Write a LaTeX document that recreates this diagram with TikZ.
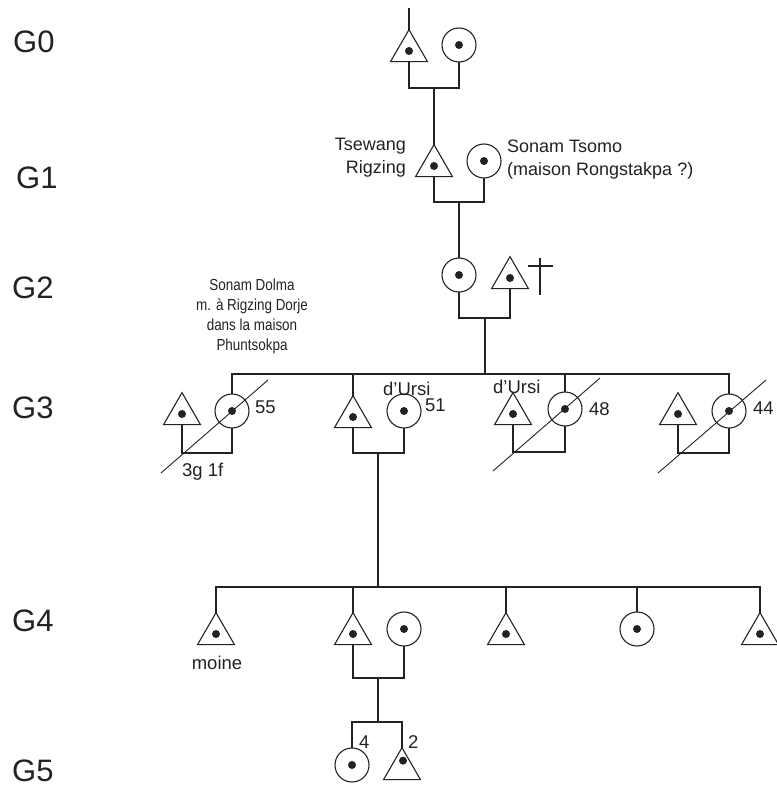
\documentclass[tikz,border=0pt]{standalone}
\usepackage{fontspec}
\setmainfont{Liberation Sans}
\usetikzlibrary{shapes.geometric}
\definecolor{ink}{HTML}{222222}
\tikzset{
  ln/.style={line width=1.1pt, draw=ink},
  thin/.style={line width=0.9pt, draw=ink},
  male/.style={draw=ink, regular polygon, regular polygon sides=3, minimum size=42.7pt, inner sep=0pt, outer sep=0pt, line width=1.1pt},
  female/.style={draw=ink, circle, minimum size=34pt, inner sep=0pt, outer sep=0pt, line width=1.1pt},
  lbl/.style={inner sep=0pt, text=ink, font=\fontsize{18.5}{22}\selectfont},
  lblg/.style={inner sep=0pt, text=ink, font=\fontsize{18}{22}\selectfont},
  lbls/.style={inner sep=0pt, text=ink, font=\fontsize{16}{20}\selectfont, anchor=base},
  gen/.style={inner sep=0pt, anchor=west, text=ink, font=\fontsize{31}{36}\selectfont},
}
\begin{document}
\begin{tikzpicture}[x=1pt,y=-1pt]
\useasboundingbox (0,0) rectangle (776,789);
% generation labels
\node[gen] (g0) at (13,42) {G0};
\node[gen] (g1) at (16,178) {G1};
\node[gen] (g2) at (12,288) {G2};
\node[gen] (g3) at (12,408) {G3};
\node[gen] (g4) at (12,621) {G4};
\node[gen] (g5) at (12,771) {G5};

% G0
\node[male] (t0) at (409,51) {};
\node[female] (c0) at (459,45) {};
\coordinate (top0) at (409,8);
\coordinate (m0) at (434,88);
\draw[ln] (top0) -- (t0.north);
\draw[ln] (t0.south) |- (m0) -| (c0.south);

% G1
\node[male] (t1) at (434,166) {};
\node[female] (c1) at (484,161) {};
\coordinate (m1) at (459,202);
\draw[ln] (m0) -- (t1.north);
\draw[ln] (t1.south) |- (m1) -| (c1.south);
\node[lblg, anchor=base east] (ts1) at (406,150) {Tsewang};
\node[lblg, anchor=base east] (ts2) at (406,173) {Rigzing};
\node[lblg, anchor=base west] (so1) at (507,152) {Sonam Tsomo};
\node[lblg, anchor=base west] (so2) at (507,175) {(maison Rongstakpa ?)};

% G2
\node[female] (c2) at (459,275) {};
\node[male] (t2) at (510,278) {};
\coordinate (m2) at (485,318);
\draw[ln] (m1) -- (c2.north);
\draw[ln] (c2.south) |- (m2) -| (t2.south);
\coordinate (cr1) at (540,258);
\coordinate (cr2) at (540,295);
\coordinate (cr3) at (528,266);
\coordinate (cr4) at (553,266);
\draw[ln] (cr1) -- (cr2);
\draw[ln] (cr3) -- (cr4);
\node[lbls] (sd1) at (252,290) {\scalebox{0.84}[1]{Sonam Dolma}};
\node[lbls] (sd2) at (252,310) {\scalebox{0.84}[1]{m. à Rigzing Dorje}};
\node[lbls] (sd3) at (252,330) {\scalebox{0.84}[1]{dans la maison}};
\node[lbls] (sd4) at (252,350) {\scalebox{0.84}[1]{Phuntsokpa}};

% G3
\coordinate (s3) at (485,374);
\draw[ln] (m2) -- (s3);
\node[male] (tA) at (182,414) {};
\node[female] (cA) at (232,411) {};
\node[male] (tB) at (353,417) {};
\node[female] (cB) at (404,411) {};
\node[male] (tC) at (513,414) {};
\node[female] (cC) at (565,409) {};
\node[male] (tD) at (678,414) {};
\node[female] (cD) at (729,411) {};
\draw[ln] (cA.north) |- (s3) -| (cD.north);
\draw[ln] (s3 -| tB.north) -- (tB.north);
\draw[ln] (s3 -| cC.north) -- (cC.north);
\coordinate (mA) at (207,453);
\coordinate (mB) at (378,453);
\coordinate (mC) at (539,452);
\coordinate (mD) at (703,453);
\draw[ln] (tA.south) |- (mA) -| (cA.south);
\draw[ln] (tB.south) |- (mB) -| (cB.south);
\draw[ln] (tC.south) |- (mC) -| (cC.south);
\draw[ln] (tD.south) |- (mD) -| (cD.south);
\coordinate (dA1) at (161,473); \coordinate (dA2) at (268,380);
\coordinate (dC1) at (493,471); \coordinate (dC2) at (600,378);
\coordinate (dD1) at (658,473); \coordinate (dD2) at (766,380);
\draw[thin] (dA1) -- (dA2);
\draw[thin] (dC1) -- (dC2);
\draw[thin] (dD1) -- (dD2);
\node[lbl, anchor=west] (n55) at (255,407) {55};
\node[lbl, anchor=west] (n51) at (425,405) {51};
\node[lbl, anchor=west] (n48) at (589,409) {48};
\node[lbl, anchor=west] (n44) at (753,408) {44};
\node[lbl, anchor=west] (du1) at (383,389) {d’Ursi};
\node[lbl, anchor=west] (du2) at (493,387) {d’Ursi};
\node[lbl, anchor=west] (gf) at (182,472) {3g 1f};

% G4
\coordinate (s4) at (378,587);
\draw[ln] (mB) -- (s4);
\node[male] (t4a) at (216,634) {};
\node[male] (t4b) at (353,634) {};
\node[female] (c4b) at (404,629) {};
\node[male] (t4c) at (506,634) {};
\node[female] (c4d) at (637,629) {};
\node[male] (t4e) at (760,634) {};
\draw[ln] (t4a.north) |- (s4) -| (t4e.north);
\draw[ln] (s4 -| t4b.north) -- (t4b.north);
\draw[ln] (s4 -| t4c.north) -- (t4c.north);
\draw[ln] (s4 -| c4d.north) -- (c4d.north);
\coordinate (m4) at (378,678);
\draw[ln] (t4b.south) |- (m4) -| (c4b.south);
\node[lbl, anchor=base] (moine) at (217,669) {moine};

% G5
\coordinate (s5) at (378,722);
\draw[ln] (m4) -- (s5);
\node[female] (c5) at (352,765) {};
\node[male] (t5) at (402,769) {};
\draw[ln] (c5.north) |- (s5) -| (t5.north);
\node[lbl, anchor=west] (n4) at (359,742) {4};
\node[lbl, anchor=west] (n2) at (408,742) {2};

% dots
\foreach \n in {t0,c0,t1,c1,c2,t2,tA,cA,tB,cB,tC,cC,tD,cD,t4a,t4b,c4b,t4c,c4d,t4e,c5}
  \fill[ink] (\n.center) circle (4pt);
\fill[ink] ([xshift=1pt,yshift=-13pt]t5.north) circle (4pt);
\end{tikzpicture}
\end{document}
